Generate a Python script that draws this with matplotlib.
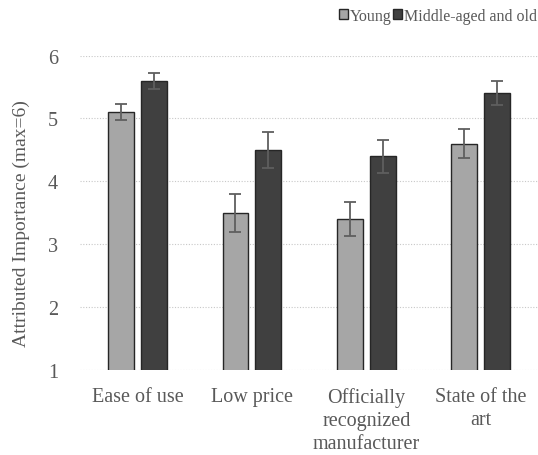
import numpy as np
import matplotlib.pyplot as plt

plt.rcParams['font.family'] = ['Liberation Serif', 'DejaVu Serif']

categories = ["Ease of use", "Low price", "Officially\nrecognized\nmanufacturer", "State of the\nart"]
young = [5.1, 3.5, 3.4, 4.6]
young_err = [0.13, 0.3, 0.27, 0.23]
older = [5.6, 4.5, 4.4, 5.4]
older_err = [0.13, 0.28, 0.26, 0.19]

fig = plt.figure(figsize=(5.38, 4.56), dpi=100)
ax = fig.add_axes([0.149, 0.186, 0.851, 0.69])

x = np.arange(len(categories))
w = 0.226
off = 0.143
ekw = dict(ecolor="#5f5f5f", elinewidth=1.3, capsize=4, capthick=1.3)

ax.bar(x - off, young, w, bottom=0, yerr=young_err, color="#a6a6a6",
       edgecolor="#262626", linewidth=1.0, error_kw=ekw, label="Young", zorder=3)
ax.bar(x + off, older, w, bottom=0, yerr=older_err, color="#404040",
       edgecolor="#262626", linewidth=1.0, error_kw=ekw, label="Middle-aged and old", zorder=3)

ax.set_xlim(-0.5, 3.5)
ax.set_ylim(1, 6)
ax.set_yticks([1, 2, 3, 4, 5, 6])
ax.yaxis.grid(True, linestyle=(0, (1, 1.5)), color="#c8c8c8", linewidth=0.8, zorder=0)
for s in ax.spines.values():
    s.set_visible(False)
ax.tick_params(length=0, labelsize=14.5, colors="#595959")
ax.tick_params(axis='y', pad=16)
ax.tick_params(axis='x', pad=12)
ax.set_xticks(x)
ax.set_xticklabels(categories, linespacing=1.3)
ax.set_ylabel("Attributed Importance (max=6)", fontsize=14, color="#595959")
ax.yaxis.set_label_coords(-0.11, 0.47)

leg = fig.legend(loc="upper right", bbox_to_anchor=(1.025, 1.012), ncol=2, frameon=False,
                 fontsize=11.5, handlelength=0.55, handleheight=0.55, handletextpad=0.12,
                 columnspacing=0.1, labelcolor="#595959")

fig.savefig("out.png", dpi=100)
